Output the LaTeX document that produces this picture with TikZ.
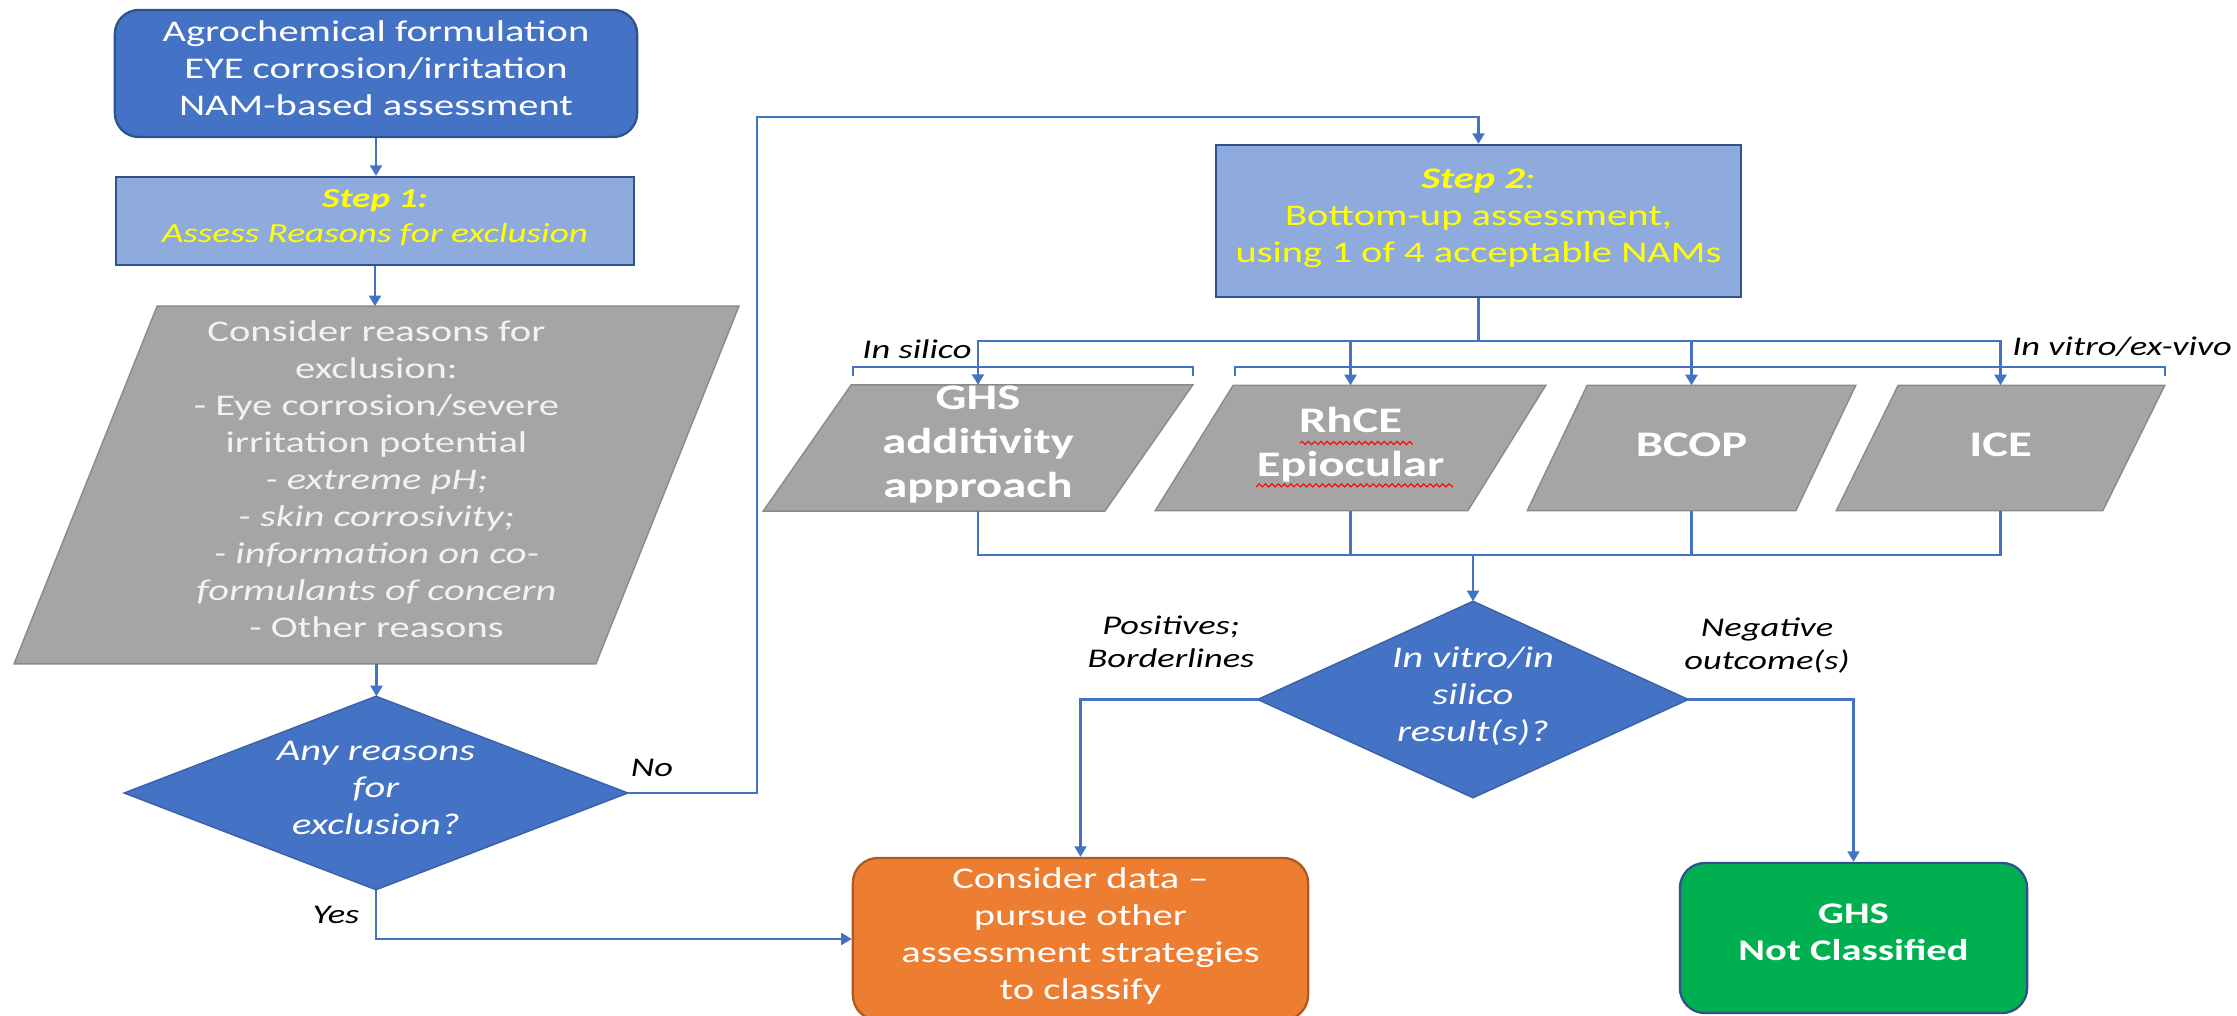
\documentclass[tikz,border=0pt]{standalone}
\usepackage{fontspec}
\setmainfont{Carlito}[FakeStretch=1.35]
\usetikzlibrary{arrows.meta,backgrounds,calc,decorations.pathmorphing}
\definecolor{cblue}{HTML}{4472C4}
\definecolor{cbluedark}{HTML}{2F528F}
\definecolor{clight}{HTML}{8FAADC}
\definecolor{cgray}{HTML}{A5A5A5}
\definecolor{cgrayedge}{HTML}{8A8A8A}
\definecolor{cgraytxt}{HTML}{F2F2F2}
\definecolor{corange}{HTML}{ED7D31}
\definecolor{corangedark}{HTML}{AE5A21}
\definecolor{cgreen}{HTML}{00B050}
\definecolor{cyellow}{HTML}{FFFF00}
\begin{document}
\begin{tikzpicture}[x=0.01cm,y=-0.01cm,
  conn/.style={draw=cblue, line width=0.65pt},
  arr/.style={conn,-{Triangle[width=3.4pt,length=3pt]}},
  txt/.style={align=center, inner sep=0pt,
    execute at begin node=\strut, execute at end node=\strut},
  fnorm/.style={font=\fontsize{8.54pt}{10.53pt}\selectfont},
  fnam/.style={font=\fontsize{10.24pt}{12.52pt}\selectfont\bfseries},
  flab/.style={font=\fontsize{7.68pt}{9.39pt}\selectfont\itshape},
  boxframe/.style={line width=0.65pt},
  para/.style={fill=cgray, draw=cgrayedge, line width=0.4pt},
  dia/.style={fill=cblue, draw=cblue!85!black, line width=0.4pt},
  namtext/.style={txt, fnam, text=white, minimum height=12.4mm}
]
\useasboundingbox (0,0) rectangle (2237,1016);

% ---------- Left column ----------
\node[txt, fnorm, text=white, fill=cblue, draw=cbluedark, boxframe,
      rounded corners=2.4mm, minimum width=52.2mm, minimum height=12.7mm]
  (start) at (376,73.5) {Agrochemical formulation\\EYE corrosion/irritation\\NAM-based assessment};

\node[txt, text=cyellow, fill=clight, draw=cbluedark, boxframe,
      minimum width=51.8mm, minimum height=8.8mm, font=\fontsize{7.85pt}{9.96pt}\selectfont\itshape]
  (step1) at (375,221) {\bfseries Step 1:\\Assess Reasons for exclusion};

\node[txt, fnorm, text=cgraytxt, minimum width=72.3mm, minimum height=35.6mm]
  (reasons) at (376.5,485) {Consider reasons for\\exclusion:\\- Eye corrosion/severe\\irritation potential\\\textit{- extreme pH;}\\\textit{- skin corrosivity;}\\\textit{- information on co-}\\\textit{formulants of concern}\\- Other reasons};

\node[txt, text=white, minimum width=50.2mm, minimum height=19.2mm,
      font=\fontsize{8.54pt}{10.53pt}\selectfont\itshape]
  (q1) at (376,793) {Any reasons\\for\\exclusion?};

% ---------- Right part ----------
\node[txt, fnorm, text=cyellow, fill=clight, draw=cbluedark, boxframe,
      minimum width=52.5mm, minimum height=15.2mm]
  (step2) at (1478.5,221) {{\bfseries\itshape Step 2}{\itshape :}\\Bottom-up assessment,\\using 1 of 4 acceptable NAMs};

\node[namtext, minimum width=42.8mm] (ghs)  at (978,448)    {GHS\\additivity\\approach};
\node[namtext, minimum width=38.9mm] (rhce) at (1350.5,448) {RhCE\\Epiocular};
\node[namtext, minimum width=32.7mm] (bcop) at (1691.5,448) {BCOP};
\node[namtext, minimum width=32.7mm] (ice)  at (2000.5,448) {ICE};

\node[txt, text=white, minimum width=42.9mm, minimum height=19.5mm,
      font=\fontsize{8.54pt}{10.53pt}\selectfont\itshape]
  (q2) at (1473,699.5) {In vitro/in\\silico\\result(s)?};

\node[txt, fnorm, text=white, fill=corange, draw=corangedark, boxframe,
      rounded corners=2.5mm, minimum width=45.5mm, minimum height=16.2mm]
  (orange) at (1080.5,939) {Consider data --\\pursue other\\assessment strategies\\to classify};

\node[txt, text=white, fill=cgreen, draw=cbluedark, boxframe,
      rounded corners=2.5mm, minimum width=34.7mm, minimum height=15mm,
      font=\fontsize{8.54pt}{10.53pt}\selectfont\bfseries]
  (green) at (1853.5,938) {GHS\\Not Classified};

% ---------- Shapes behind the texts ----------
\begin{scope}[on background layer]
  \fill[white] (0,0) rectangle (2237,1016);
  \path[para] (reasons.south west) -- ($(reasons.south east)+(-143,0)$)
        -- (reasons.north east) -- ($(reasons.north west)+(143,0)$) -- cycle;
  \path[para] (ghs.south west) -- ($(ghs.south east)+(-88,0)$)
        -- (ghs.north east) -- ($(ghs.north west)+(88,0)$) -- cycle;
  \path[para] (rhce.south west) -- ($(rhce.south east)+(-78,0)$)
        -- (rhce.north east) -- ($(rhce.north west)+(78,0)$) -- cycle;
  \path[para] (bcop.south west) -- ($(bcop.south east)+(-60,0)$)
        -- (bcop.north east) -- ($(bcop.north west)+(60,0)$) -- cycle;
  \path[para] (ice.south west) -- ($(ice.south east)+(-62,0)$)
        -- (ice.north east) -- ($(ice.north west)+(62,0)$) -- cycle;
  \path[dia] (q1.north) -- (q1.east) -- (q1.south) -- (q1.west) -- cycle;
  \path[dia] (q2.north) -- (q2.east) -- (q2.south) -- (q2.west) -- cycle;
\end{scope}

% spell-check underline
\draw[red, line width=0.3pt, decorate, decoration={snake, amplitude=0.45pt, segment length=1.8pt}]
  (1300,443) -- (1411,443) (1256,487) -- (1453,487);

% ---------- Connectors ----------
\draw[arr] (start.south) -- (start.south |- step1.north);
\draw[arr] (step1.south) -- (step1.south |- reasons.north);
\draw[arr] (reasons.south) -- (reasons.south |- q1.north);

\coordinate (nocorner) at (757,117);
\draw[arr] (q1.east) -| (nocorner) -| (step2.north);
\draw[arr] (q1.south) |- (orange.west);

\coordinate (split) at (1478.5,341);
\draw[conn] (step2.south) -- (split);
\draw[arr] (split) -| (ghs.north);
\draw[arr] (split) -| (rhce.north);
\draw[arr] (split) -| (bcop.north);
\draw[arr] (split) -| (ice.north);

\coordinate (merge) at (1473,555);
\draw[conn] (ghs.south) |- (merge);
\draw[conn] (rhce.south) |- (merge);
\draw[conn] (bcop.south) |- (merge);
\draw[conn] (ice.south) |- (merge);
\draw[arr] (merge) -- (q2.north);

\draw[arr] (q2.west) -| (orange.north);
\draw[arr] (q2.east) -| (green.north);

% brackets
\draw[conn] (853,376) -- (853,367) -- (1193,367) -- (1193,376);
\draw[conn] (1235,376) -- (1235,367) -- (2165,367) -- (2165,376);

% ---------- Labels ----------
\node[flab, anchor=base, inner sep=0pt] (lno)  at (652,776) {No};
\node[flab, anchor=base, inner sep=0pt] (lyes) at (336,923) {Yes};
\node[flab, anchor=base, inner sep=0pt] (lsil) at (917,359) {In silico};
\node[flab, anchor=base, inner sep=0pt] (lvit) at (2122,356) {In vitro/ex-vivo};
\node[flab, txt] (lpos) at (1171,647) {Positives;\\Borderlines};
\node[flab, txt] (lneg) at (1767,649) {Negative\\outcome(s)};
\end{tikzpicture}
\end{document}
